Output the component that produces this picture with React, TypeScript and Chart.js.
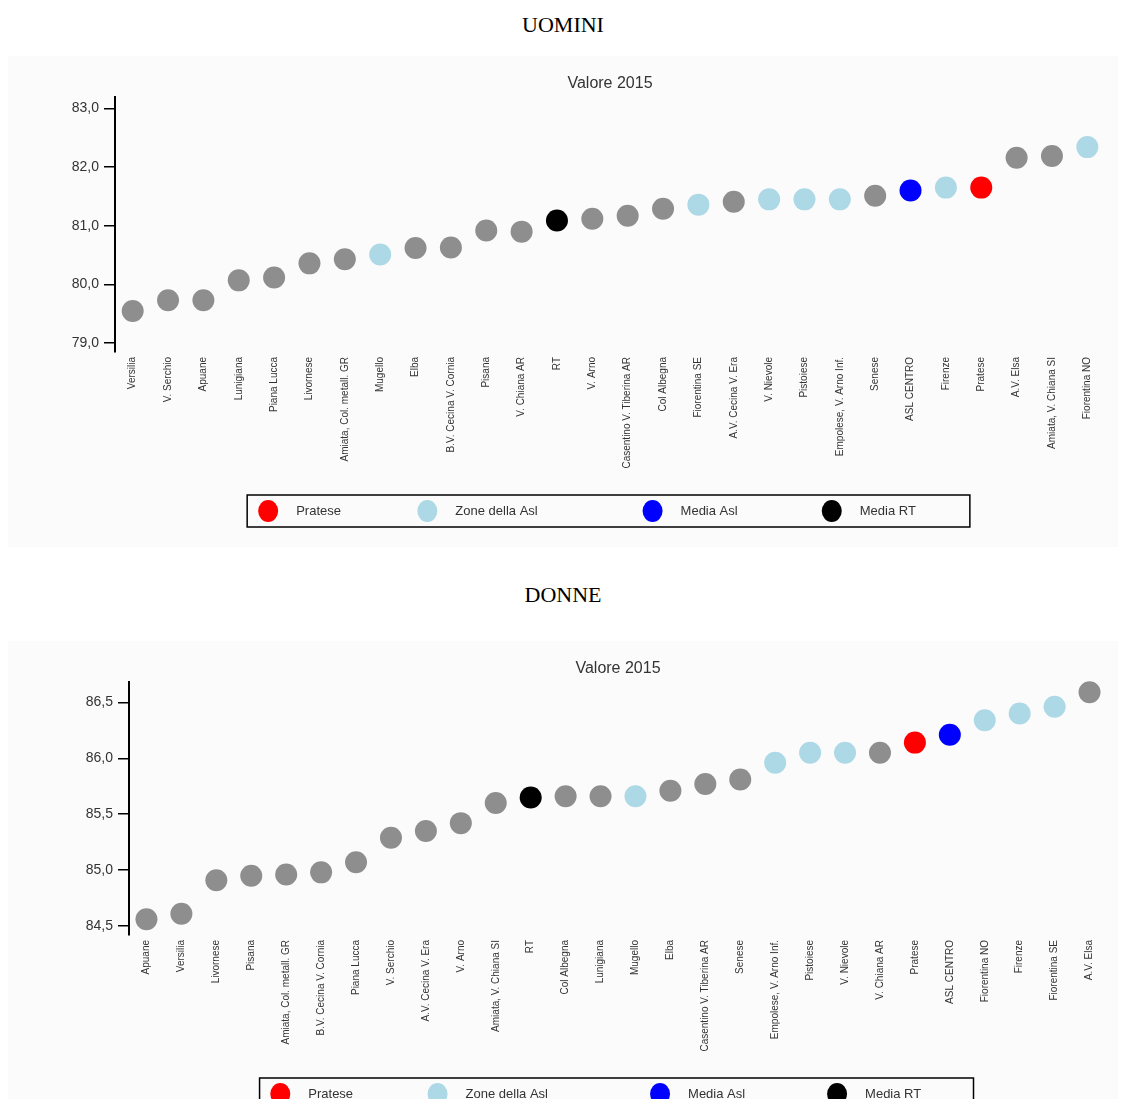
import React, { useEffect, useRef } from "react";
import Chart from "chart.js/auto";

const FONT = "'Liberation Sans', Arial, sans-serif";

const uominiLabels = [
  "Versilia", "V. Serchio", "Apuane", "Lunigiana", "Piana Lucca", "Livornese",
  "Amiata, Col. metall. GR", "Mugello", "Elba", "B.V. Cecina V. Cornia", "Pisana",
  "V. Chiana AR", "RT", "V. Arno", "Casentino V. Tiberina AR", "Col Albegna",
  "Fiorentina SE", "A.V. Cecina V. Era", "V. Nievole", "Pistoiese",
  "Empolese, V. Arno Inf.", "Senese", "ASL CENTRO", "Firenze", "Pratese",
  "A.V. Elsa", "Amiata, V. Chiana SI", "Fiorentina NO",
];
const uominiValues = [
  79.55, 79.73, 79.73, 80.07, 80.12, 80.36, 80.43, 80.51, 80.62, 80.63, 80.92,
  80.9, 81.09, 81.12, 81.17, 81.29, 81.36, 81.41, 81.45, 81.45, 81.45, 81.51,
  81.6, 81.65, 81.65, 82.16, 82.19, 82.34,
];
const uominiTicks = [79, 80, 81, 82, 83];

const donneLabels = [
  "Apuane", "Versilia", "Livornese", "Pisana", "Amiata, Col. metall. GR",
  "B.V. Cecina V. Cornia", "Piana Lucca", "V. Serchio", "A.V. Cecina V. Era",
  "V. Arno", "Amiata, V. Chiana SI", "RT", "Col Albegna", "Lunigiana", "Mugello",
  "Elba", "Casentino V. Tiberina AR", "Senese", "Empolese, V. Arno Inf.",
  "Pistoiese", "V. Nievole", "V. Chiana AR", "Pratese", "ASL CENTRO",
  "Fiorentina NO", "Firenze", "Fiorentina SE", "A.V. Elsa",
];
const donneValues = [
  84.56, 84.61, 84.91, 84.95, 84.96, 84.98, 85.07, 85.29, 85.35, 85.42, 85.6,
  85.65, 85.66, 85.66, 85.66, 85.71, 85.77, 85.81, 85.96, 86.05, 86.05, 86.05,
  86.14, 86.21, 86.34, 86.4, 86.46, 86.59,
];
const donneTicks = [84.5, 85.0, 85.5, 86.0, 86.5];

const aslZones = [
  "Fiorentina NO", "Fiorentina SE", "Firenze", "Mugello",
  "Empolese, V. Arno Inf.", "V. Nievole", "Pistoiese",
];
const legendLabels = ["Pratese", "Zone della Asl", "Media Asl", "Media RT"];
const legendColors = ["#ff0000", "#add8e6", "#0000ff", "#000000"];
const GRAY = "#8e8e8e";

function colorFor(label: string): string {
  if (label === "Pratese") return legendColors[0];
  if (label === "ASL CENTRO") return legendColors[2];
  if (label === "RT") return legendColors[3];
  if (aslZones.includes(label)) return legendColors[1];
  return GRAY;
}

const legendPlugin = {
  id: "boxLegend",
  afterDraw(chart: any) {
    const { ctx, chartArea } = chart;
    const { left, right, bottom } = chartArea;
    const w = right - left;
    const boxX = left + 0.1335 * w;
    const boxW = 0.73 * w;
    const boxY = bottom + 143;
    const boxH = 32;
    ctx.save();
    ctx.strokeStyle = "#000";
    ctx.lineWidth = 1.5;
    ctx.strokeRect(boxX, boxY, boxW, boxH);
    const offs = [0.1547, 0.3155, 0.543, 0.724];
    legendLabels.forEach((lab, i) => {
      const cx = left + offs[i] * w;
      const cy = boxY + boxH / 2;
      ctx.beginPath();
      ctx.fillStyle = legendColors[i];
      ctx.ellipse(cx, cy, 10, 11, 0, 0, Math.PI * 2);
      ctx.fill();
      ctx.fillStyle = "#333";
      ctx.font = `13px ${FONT}`;
      ctx.textBaseline = "middle";
      ctx.textAlign = "left";
      ctx.fillText(lab, cx + 28, cy);
    });
    ctx.restore();
  },
};

type PanelProps = {
  labels: string[];
  values: number[];
  ticks: number[];
  min: number;
  max: number;
  yWidth: number;
  xHeight: number;
  padRight: number;
};

function Panel(p: PanelProps) {
  const ref = useRef<HTMLCanvasElement>(null);
  useEffect(() => {
    const chart = new Chart(ref.current!, {
      type: "line",
      data: {
        labels: p.labels,
        datasets: [
          {
            data: p.values,
            showLine: false,
            clip: false,
            pointRadius: 11,
            pointBorderWidth: 0,
            pointBackgroundColor: p.labels.map(colorFor),
            pointBorderColor: p.labels.map(colorFor),
          },
        ],
      },
      options: {
        animation: false,
        responsive: true,
        maintainAspectRatio: false,
        events: [],
        layout: { padding: { left: 0, right: p.padRight, top: 0, bottom: 0 } },
        plugins: {
          legend: { display: false },
          tooltip: { enabled: false },
          title: {
            display: true,
            text: "Valore 2015",
            fullSize: false,
            color: "#333",
            font: { family: FONT, size: 16, weight: "normal" },
            padding: { top: 18, bottom: 4 },
          },
        },
        scales: {
          x: {
            type: "category",
            offset: true,
            grid: { display: false, drawTicks: false },
            border: { display: false },
            ticks: {
              autoSkip: false,
              maxRotation: 90,
              minRotation: 90,
              padding: 5,
              color: "#333",
              font: { family: FONT, size: 10 },
            },
            afterFit: (s: any) => {
              s.height = p.xHeight;
            },
          },
          y: {
            min: p.min,
            max: p.max,
            afterBuildTicks: (s: any) => {
              s.ticks = p.ticks.map((v) => ({ value: v }));
            },
            ticks: {
              padding: 5,
              color: "#333",
              font: { family: FONT, size: 14 },
              callback: (v: any) => Number(v).toFixed(1).replace(".", ","),
            },
            grid: {
              drawOnChartArea: false,
              tickLength: 11,
              color: "#000",
              lineWidth: 1.5,
            },
            border: { color: "#000", width: 2 },
            afterFit: (s: any) => {
              s.width = p.yWidth;
            },
          },
        },
      },
      plugins: [legendPlugin],
    } as any);
    return () => chart.destroy();
  }, []);
  return (
    <div style={{ width: 1110, height: 491, position: "relative", background: "#fbfbfb" }}>
      <canvas ref={ref} />
    </div>
  );
}

export default function App() {
  const heading: React.CSSProperties = {
    width: 1110,
    textAlign: "center",
    fontFamily: "'Liberation Serif', 'Times New Roman', serif",
    fontSize: 22,
    color: "#000",
    overflow: "visible",
  };
  return (
    <div>
      <div style={{ ...heading, height: 48, lineHeight: "34px" }}>UOMINI</div>
      <Panel
        labels={uominiLabels}
        values={uominiValues}
        ticks={uominiTicks}
        min={78.85}
        max={83.19}
        yWidth={107}
        xHeight={195}
        padRight={13}
      />
      <div style={{ ...heading, height: 94, lineHeight: "96px" }}>DONNE</div>
      <Panel
        labels={donneLabels}
        values={donneValues}
        ticks={donneTicks}
        min={84.42}
        max={86.68}
        yWidth={121}
        xHeight={197}
        padRight={8}
      />
    </div>
  );
}
